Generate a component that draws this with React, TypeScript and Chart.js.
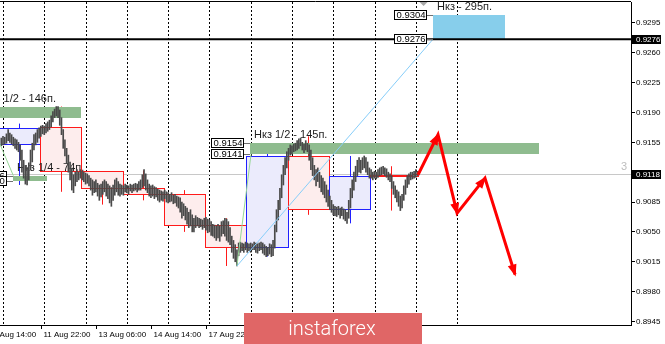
import React, { useEffect, useRef } from 'react';
import { Chart, registerables } from 'chart.js';

Chart.register(...registerables);

// ---- data (prices in pips: value * 0.0001) ----
const PIP = 0.0001;
const FIRST_BAR = -1; // bar 0 = 11 Aug 00:00, one bar per hour
const HIGHS = [
  9160, 9162, 9161, 9165, 9170, 9166, 9164, 9161, 9159, 9158, 9155,
  9152, 9146, 9134, 9128, 9125, 9131, 9146, 9154, 9164, 9166,
  9170, 9172, 9174, 9175, 9174, 9177, 9179, 9181, 9186, 9191,
  9194, 9197, 9197, 9193, 9184, 9170, 9158, 9148, 9140, 9132,
  9125, 9117, 9120, 9123, 9120, 9123, 9121, 9120, 9119, 9118,
  9116, 9113, 9111, 9109, 9111, 9107, 9105, 9106, 9109, 9111,
  9109, 9106, 9104, 9102, 9105, 9111, 9113, 9109, 9106, 9105,
  9104, 9106, 9105, 9104, 9106, 9105, 9106, 9107, 9106, 9109,
  9111, 9117, 9123, 9118, 9111, 9106, 9104, 9105, 9103, 9102,
  9100, 9099, 9098, 9097, 9099, 9097, 9096, 9094, 9096, 9093,
  9094, 9092, 9091, 9090, 9085, 9083, 9080, 9078, 9073, 9076,
  9070, 9066, 9069, 9067, 9066, 9065, 9064, 9066, 9067, 9065,
  9064, 9062, 9059, 9058, 9057, 9059, 9057, 9062, 9063, 9066,
  9065, 9062, 9055, 9045, 9040, 9035, 9029, 9037, 9038, 9037,
  9036, 9038, 9037, 9036, 9037, 9036, 9038, 9037, 9036, 9037,
  9038, 9037, 9035, 9033, 9032, 9036, 9035, 9040, 9058, 9076,
  9087, 9101, 9117, 9128, 9137, 9144, 9148, 9152, 9151, 9153,
  9154, 9157, 9159, 9160, 9155, 9153, 9157, 9154, 9152, 9146,
  9137, 9128, 9123, 9125, 9120, 9116, 9113, 9109, 9105, 9099,
  9092, 9087, 9082, 9080, 9079, 9080, 9078, 9079, 9077, 9076,
  9073, 9087, 9101, 9111, 9120, 9127, 9134, 9137, 9134, 9137,
  9139, 9137, 9132, 9125, 9123, 9120, 9121, 9120, 9123, 9125,
  9126, 9127, 9125, 9124, 9120, 9118, 9116, 9109, 9104, 9099,
  9097, 9092, 9094, 9104, 9111, 9116, 9118, 9120, 9120, 9121,
  9123, 9121,
];
const LOWS = [
  9151, 9152, 9153, 9154, 9157, 9155, 9153, 9151, 9148, 9146, 9144,
  9134, 9120, 9113, 9106, 9105, 9111, 9123, 9132, 9146, 9152,
  9155, 9160, 9162, 9165, 9164, 9166, 9168, 9170, 9173, 9179,
  9184, 9186, 9184, 9175, 9164, 9148, 9139, 9130, 9120, 9111,
  9099, 9096, 9104, 9109, 9111, 9113, 9111, 9109, 9106, 9107,
  9104, 9099, 9093, 9096, 9097, 9092, 9087, 9091, 9094, 9097,
  9092, 9089, 9084, 9080, 9087, 9093, 9097, 9093, 9092, 9094,
  9093, 9097, 9096, 9094, 9098, 9096, 9098, 9099, 9097, 9099,
  9099, 9102, 9104, 9099, 9096, 9092, 9090, 9092, 9089, 9091,
  9087, 9085, 9087, 9086, 9089, 9085, 9084, 9085, 9086, 9083,
  9084, 9080, 9078, 9073, 9066, 9069, 9064, 9059, 9055, 9057,
  9050, 9050, 9055, 9057, 9055, 9056, 9053, 9055, 9052, 9049,
  9050, 9046, 9045, 9043, 9040, 9043, 9039, 9045, 9048, 9045,
  9040, 9038, 9035, 9026, 9019, 9015, 9010, 9022, 9026, 9028,
  9026, 9029, 9026, 9028, 9026, 9029, 9029, 9026, 9025, 9028,
  9029, 9025, 9023, 9021, 9022, 9024, 9021, 9022, 9031, 9050,
  9064, 9076, 9090, 9105, 9117, 9125, 9134, 9140, 9141, 9144,
  9145, 9146, 9148, 9151, 9146, 9143, 9146, 9144, 9134, 9123,
  9116, 9111, 9104, 9109, 9102, 9097, 9094, 9090, 9085, 9080,
  9076, 9073, 9070, 9069, 9068, 9070, 9066, 9069, 9065, 9063,
  9060, 9066, 9078, 9090, 9099, 9109, 9116, 9120, 9119, 9123,
  9125, 9120, 9117, 9113, 9113, 9111, 9113, 9112, 9114, 9116,
  9117, 9118, 9116, 9114, 9111, 9109, 9101, 9094, 9090, 9085,
  9080, 9075, 9078, 9087, 9094, 9102, 9106, 9111, 9112, 9113,
  9114, 9116,
];

// daily candles overlay
const DAY_START = [-2.5, 21.5, 45.5, 69.5, 93.5, 117.5, 141.5, 165.5, 189.5, 213.5, 237.5];
const DAY_OPEN = [9153, 9173, 9121, 9101, 9094, 9058, 9032, 9139, 9077, 9117, 9118];
const DAY_HIGH = [9177, 9197, 9121, 9122, 9099, 9066, 9148, 9162, 9139, 9127, 9118];
const DAY_LOW = [9105, 9097, 9082, 9087, 9050, 9010, 9021, 9070, 9060, 9075, 9116];
const DAY_CLOSE = [9172, 9121, 9101, 9094, 9058, 9032, 9139, 9077, 9116, 9115, 9116];

// target zones
const ZONE_FROM = [-14.2, 5.8, 143.6, 250];
const ZONE_TO = [45.5, 25.4, 311.6, 292];
const ZONE_TOP = [0.9196, 0.9116, 0.9154, 0.9304];
const ZONE_BOTTOM = [0.9183, 0.911, 0.9141, 0.9276];
const ZONE_TEXT = ['Нкз 1/2 - 146п.', 'Нкз 1/4 - 74п.', 'Нкз 1/2 - 145п.', 'Нкз - 295п.'];
const ZONE_FILL = ['#8fbc8f', '#8fbc8f', '#8fbc8f', '#87ceeb'];

const LEVEL = 0.9276;
const LAST_PRICE = 0.9118;

const SKY_TREND_X = [136, 250];
const SKY_TREND_Y = [0.901, 0.9276];
const GREEN_TREND_X = [136, 144.2];
const GREEN_TREND_Y = [0.901, 0.9141];
const GREEN_TREND2_X = [-6, 6];
const GREEN_TREND2_Y = [0.9173, 0.9116];

const FORECAST_X = [241.3, 252.9, 264, 280.2, 297.7];
const FORECAST_Y = [0.9117, 0.9164, 0.9072, 0.9113, 0.9];

const GRID_BARS = [0, 24, 48, 72, 96, 120, 144, 168, 192, 216, 240, 264];
const TIME_BARS = [-10, 22, 54, 86, 118, 150, 182, 214];
const TIME_LABELS = ['10 Aug 14:00', '11 Aug 22:00', '13 Aug 06:00', '14 Aug 14:00', '17 Aug 22:00', '19 Aug 06:00', '20 Aug 14:00', '21 Aug 22:00'];
const Y_TICKS = [0.8945, 0.898, 0.9015, 0.905, 0.9085, 0.9155, 0.919, 0.9225, 0.926, 0.9295];
const Y_MIN = 0.89408;
const Y_MAX = 0.93196;
const X_MIN = -1.744;
const X_MAX = 365.1;

const FONT = '"Liberation Sans", Arial, sans-serif';

function hline(ctx: CanvasRenderingContext2D, x1: number, x2: number, y: number) {
  ctx.beginPath();
  ctx.moveTo(x1, y);
  ctx.lineTo(x2, y);
  ctx.stroke();
}
function vline(ctx: CanvasRenderingContext2D, x: number, y1: number, y2: number) {
  ctx.beginPath();
  ctx.moveTo(x, y1);
  ctx.lineTo(x, y2);
  ctx.stroke();
}
const crisp = (v: number) => Math.round(v) + 0.5;

function lastBar() {
  return FIRST_BAR + HIGHS.length - 1;
}

const overlay = {
  id: 'overlay',
  beforeDraw(chart: any) {
    const ctx = chart.ctx;
    ctx.save();
    ctx.fillStyle = '#fff';
    ctx.fillRect(0, 0, chart.width, chart.height);
    ctx.restore();
  },
  beforeDatasetsDraw(chart: any) {
    const { ctx, chartArea: a, scales } = chart;
    const x = scales.x;
    const y = scales.y;
    ctx.save();
    ctx.beginPath();
    ctx.rect(a.left, a.top, a.right - a.left, a.bottom - a.top);
    ctx.clip();

    // vertical dotted day separators
    ctx.strokeStyle = '#000';
    ctx.lineWidth = 1;
    ctx.setLineDash([2, 2]);
    GRID_BARS.forEach((b) => vline(ctx, crisp(x.getPixelForValue(b)), a.top, a.bottom));
    ctx.setLineDash([]);

    // last price line
    ctx.strokeStyle = '#c8c8c8';
    hline(ctx, a.left, a.right, crisp(y.getPixelForValue(LAST_PRICE)));

    // daily candle boxes
    const lb = lastBar();
    DAY_START.forEach((s, k) => {
      const bull = DAY_CLOSE[k] > DAY_OPEN[k];
      const stroke = bull ? '#2020ff' : '#ff1a1a';
      const fill = bull ? '#ebebfc' : '#fdeded';
      const end = Math.min(s + 24, lb + 0.5);
      const x1 = crisp(x.getPixelForValue(s));
      const x2 = crisp(x.getPixelForValue(end));
      const top = Math.max(DAY_OPEN[k], DAY_CLOSE[k]) * PIP;
      const bot = Math.min(DAY_OPEN[k], DAY_CLOSE[k]) * PIP;
      const yt = crisp(y.getPixelForValue(top));
      const yb = crisp(y.getPixelForValue(bot));
      ctx.fillStyle = fill;
      ctx.fillRect(x1, yt, x2 - x1, yb - yt);
      ctx.strokeStyle = stroke;
      ctx.lineWidth = 1;
      ctx.strokeRect(x1, yt, x2 - x1, yb - yt);
      const mid = s + 12;
      if (mid <= end) {
        const xm = crisp(x.getPixelForValue(mid));
        const yh = y.getPixelForValue(DAY_HIGH[k] * PIP);
        const yl = y.getPixelForValue(DAY_LOW[k] * PIP);
        if (yh < yt) vline(ctx, xm, yh, yt);
        if (yl > yb) vline(ctx, xm, yb, yl);
      }
    });

    // zones
    ZONE_FROM.forEach((f, k) => {
      const x1 = x.getPixelForValue(f);
      const x2 = x.getPixelForValue(ZONE_TO[k]);
      const yt = y.getPixelForValue(ZONE_TOP[k]);
      const yb = y.getPixelForValue(ZONE_BOTTOM[k]);
      ctx.fillStyle = ZONE_FILL[k];
      ctx.fillRect(Math.round(x1), Math.round(yt), Math.round(x2) - Math.round(x1), Math.round(yb) - Math.round(yt));
    });

    // zone captions
    ctx.fillStyle = '#1e1e1e';
    ctx.font = '11px ' + FONT;
    ctx.textBaseline = 'middle';
    ctx.textAlign = 'left';
    ZONE_FROM.forEach((f, k) => {
      const x1 = x.getPixelForValue(f);
      const yt = y.getPixelForValue(ZONE_TOP[k]);
      ctx.fillText(ZONE_TEXT[k], x1 + 4, yt - 8);
    });

    ctx.restore();
  },
  afterDatasetsDraw(chart: any) {
    const { ctx, chartArea: a, scales } = chart;
    const x = scales.x;
    const y = scales.y;
    ctx.save();
    ctx.beginPath();
    ctx.rect(a.left, a.top, a.right - a.left, a.bottom - a.top);
    ctx.clip();

    // forecast arrowheads
    ctx.fillStyle = '#ff0000';
    for (let k = 1; k < FORECAST_X.length; k++) {
      const px = x.getPixelForValue(FORECAST_X[k]);
      const py = y.getPixelForValue(FORECAST_Y[k]);
      const qx = x.getPixelForValue(FORECAST_X[k - 1]);
      const qy = y.getPixelForValue(FORECAST_Y[k - 1]);
      const len = Math.hypot(px - qx, py - qy);
      const dx = (px - qx) / len;
      const dy = (py - qy) / len;
      const bx = px - dx * 10;
      const by = py - dy * 10;
      ctx.beginPath();
      ctx.moveTo(px + dx * 2, py + dy * 2);
      ctx.lineTo(bx - dy * 4.5, by + dx * 4.5);
      ctx.lineTo(bx + dy * 4.5, by - dx * 4.5);
      ctx.closePath();
      ctx.fill();
    }

    // price tags at zone starts
    ctx.font = '9.5px ' + FONT;
    ctx.textBaseline = 'middle';
    ctx.textAlign = 'left';
    ZONE_FROM.forEach((f, k) => {
      const sx = Math.round(x.getPixelForValue(f));
      [ZONE_TOP[k], ZONE_BOTTOM[k]].forEach((v) => {
        const py = Math.round(y.getPixelForValue(v));
        const right = sx - 7;
        const left = right - 32;
        ctx.strokeStyle = '#707070';
        hline(ctx, right, sx, py + 0.5);
        ctx.fillStyle = '#fff';
        ctx.fillRect(left, py - 4, 32, 9);
        ctx.strokeStyle = '#000';
        ctx.strokeRect(left + 0.5, py - 4.5, 32, 9);
        ctx.fillStyle = '#000';
        ctx.fillText(v.toFixed(4), left + 2.5, py + 0.5);
      });
    });

    // "3" marker
    ctx.fillStyle = '#bdbdbd';
    ctx.font = '11px ' + FONT;
    ctx.fillText('3', a.right - 10, y.getPixelForValue(0.9126));

    // chart shift marker
    const sm = x.getPixelForValue(lastBar() + 3.5);
    ctx.fillStyle = '#a8a8a8';
    ctx.beginPath();
    ctx.moveTo(sm - 4, a.top);
    ctx.lineTo(sm + 4, a.top);
    ctx.lineTo(sm, a.top + 4);
    ctx.closePath();
    ctx.fill();
    ctx.restore();
  },
  afterDraw(chart: any) {
    const { ctx, chartArea: a, scales } = chart;
    const x = scales.x;
    const y = scales.y;
    ctx.save();
    // frame
    ctx.strokeStyle = '#000';
    ctx.lineWidth = 1;
    hline(ctx, a.left, a.right, a.top - 0.5);
    hline(ctx, a.left, a.right + 1, a.bottom + 0.5);

    // axis price boxes
    ctx.font = '8px ' + FONT;
    ctx.textBaseline = 'middle';
    ctx.textAlign = 'left';
    [LEVEL, LAST_PRICE].forEach((v) => {
      const py = Math.round(y.getPixelForValue(v));
      ctx.fillStyle = '#000';
      ctx.fillRect(a.right + 1, py - 4, 29, 9);
      ctx.fillStyle = '#fff';
      ctx.fillText(v.toFixed(4), a.right + 5, py + 0.5);
    });

    // time axis
    ctx.fillStyle = '#000';
    ctx.strokeStyle = '#000';
    TIME_BARS.forEach((b, k) => {
      const px = crisp(x.getPixelForValue(b));
      vline(ctx, px, a.bottom, a.bottom + 4);
      ctx.fillText(TIME_LABELS[k], px + 2, a.bottom + 9.5);
    });

    // watermark logo
    ctx.fillStyle = '#e06666';
    ctx.fillRect(244, 313, 178, 31);
    ctx.fillStyle = '#fff';
    ctx.font = '300 20px Roboto, "Liberation Sans", sans-serif';
    ctx.textAlign = 'center';
    ctx.textBaseline = 'alphabetic';
    ctx.fillText('instaforex', 332, 335);
    ctx.restore();
  },
};

const lineSet = (xs: number[], ys: number[], color: string, width: number) => ({
  type: 'line' as const,
  data: xs.map((v, i) => ({ x: v, y: ys[i] })),
  borderColor: color,
  borderWidth: width,
  pointRadius: 0,
  tension: 0,
  fill: false,
  order: 0,
});

export default function App() {
  const ref = useRef<HTMLCanvasElement>(null);
  useEffect(() => {
    document.body.style.margin = '0';
    const candles = HIGHS.map((h, k) => ({ x: FIRST_BAR + k, y: [LOWS[k] * PIP, h * PIP] }));
    const chart = new Chart(ref.current as HTMLCanvasElement, {
      type: 'bar',
      data: {
        datasets: [
          {
            type: 'bar',
            data: candles as any,
            backgroundColor: '#4a4a4a',
            borderWidth: 0,
            barThickness: 1,
            order: 2,
          } as any,
          lineSet([X_MIN, X_MAX], [LEVEL, LEVEL], '#000', 2),
          lineSet(SKY_TREND_X, SKY_TREND_Y, '#87cefa', 1),
          lineSet(GREEN_TREND_X, GREEN_TREND_Y, '#98d898', 1),
          lineSet(GREEN_TREND2_X, GREEN_TREND2_Y, '#98d898', 1),
          lineSet(FORECAST_X, FORECAST_Y, '#ff0000', 3),
        ],
      },
      options: {
        responsive: false,
        animation: false,
        devicePixelRatio: 1,
        layout: { padding: { top: 2, right: 0, bottom: 19, left: 0 } },
        plugins: { legend: { display: false }, tooltip: { enabled: false } },
        events: [],
        scales: {
          x: {
            type: 'linear',
            display: false,
            min: X_MIN,
            max: X_MAX,
            offset: false,
            grid: { offset: false },
          },
          y: {
            position: 'right',
            min: Y_MIN,
            max: Y_MAX,
            afterFit: (s: any) => {
              s.width = 34;
              s.paddingTop = 0;
              s.paddingBottom = 0;
            },
            afterBuildTicks: (s: any) => {
              s.ticks = Y_TICKS.map((v) => ({ value: v }));
            },
            ticks: {
              callback: (v: any) => Number(v).toFixed(4),
              font: { family: FONT, size: 8 },
              color: '#000',
              padding: 1,
              autoSkip: false,
            },
            grid: { drawOnChartArea: false, drawTicks: true, tickLength: 4, color: '#000' },
            border: { display: true, color: '#000', width: 1 },
          },
        },
      } as any,
      plugins: [overlay],
    });
    return () => chart.destroy();
  }, []);
  return (
    <div style={{ position: 'absolute', left: 0, top: 0, width: 665, height: 344, background: '#fff' }}>
      <canvas ref={ref} width={665} height={344} style={{ display: 'block', width: 665, height: 344 }} />
    </div>
  );
}
